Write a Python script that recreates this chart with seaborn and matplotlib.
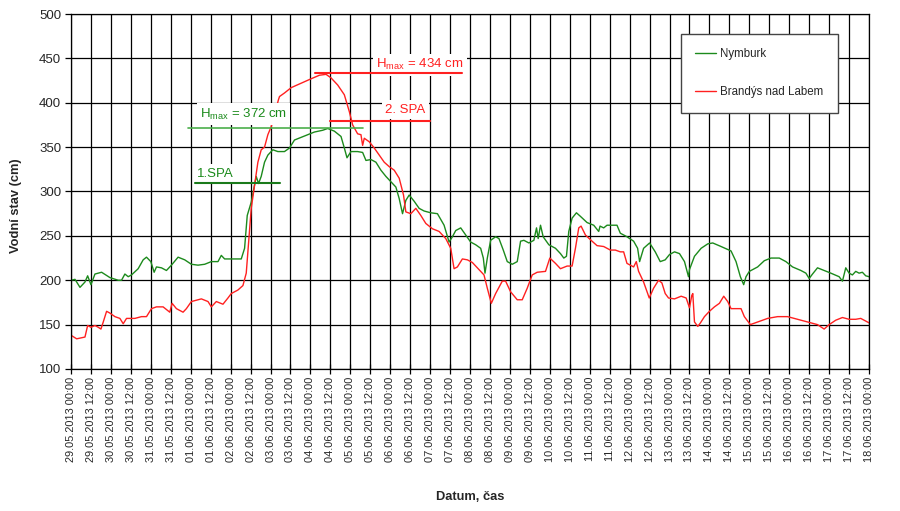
import numpy as np
import pandas as pd
import matplotlib
matplotlib.use("Agg")
import matplotlib.pyplot as plt
import matplotlib.dates as mdates
import seaborn as sns

# ---------------- data ----------------
start_time = "2013-05-29 00:00"
end_time = "2013-06-18 00:00"

nymburk_hours = [0, 2.4, 5.4, 8.4, 10, 12, 14.4, 18.4, 23.4, 28.4, 30.4, 32.4, 34.4, 36.4, 40.4,
                 43.4, 45.4, 48, 50, 51.4, 54.4, 57.4, 60.4, 64.4, 68.4, 72.4, 76.4, 80.4, 84.4,
                 88.4, 90.4, 92.4, 96.4, 102.4, 104.4, 106, 108.4, 110.4, 111.4, 112.8, 114.4,
                 116.4, 118.4, 121.4, 124.4, 128.4, 131.4, 134.4, 138.4, 142.4, 146.4, 151.4,
                 154.4, 158.4, 162.4, 164.4, 166, 168.4, 172.4, 175.4, 177.4, 180.4, 183.4, 186.4,
                 189.4, 192.4, 195.4, 197.4, 199.4, 201.4, 203.4, 206.4, 209.4, 212.4, 216.4,
                 220.4, 224.4, 227.4, 229.4, 231.4, 234.4, 237.4, 240.4, 243.4, 246.4, 248, 249,
                 250.4, 252.4, 255.4, 257.4, 260, 262.4, 265.4, 268.4, 270.4, 272.4, 275.4, 278.4,
                 280, 281, 282.4, 284, 287.4, 291.4, 294.4, 296.4, 298, 299.4, 301.4, 304, 306.4,
                 310.4, 314.4, 317.4, 318.2, 320.4, 322.4, 328.4, 330.4, 334.4, 338.4, 340.8, 342,
                 344.4, 348, 351.4, 354.4, 357.4, 360, 363, 366, 369, 371.4, 372, 375, 379, 383,
                 386, 391, 397, 400, 402.6, 404.6, 406, 408, 413, 417, 421, 426, 430, 434, 439,
                 442, 444, 446, 449, 453, 457, 462, 464, 466, 468, 470, 472, 474, 476, 478, 480]
nymburk_cm = [200, 201, 192, 198, 205, 195, 207, 209, 203, 200, 200, 207, 204, 206, 213,
              223, 226, 221, 209, 215, 214, 211, 217, 226, 223, 218, 217, 218, 221,
              221, 228, 224, 224, 224, 236, 273, 288, 307, 317, 309, 317,
              333, 341, 347, 345, 345, 349, 358, 361, 364, 367, 369,
              371, 368, 362, 349, 338, 345, 345, 344, 335, 336, 333, 324,
              317, 311, 305, 292, 275, 290, 296, 289, 281, 278, 276,
              275, 262, 243, 249, 256, 259, 251, 243, 240, 236, 225, 208,
              225, 245, 249, 247, 234, 221, 218, 221, 244, 245, 242, 245,
              259, 247, 262, 249, 240, 236, 230, 225, 227, 255, 270, 276, 272,
              265, 262, 255, 261, 259, 262, 262, 253, 249, 244, 236, 221,
              236, 242, 232, 221, 223, 229, 232, 230, 221, 204, 212, 227, 236, 241,
              242, 238, 233, 221, 204, 195, 204, 210, 215, 222, 225, 225, 221, 215, 211,
              208, 202, 207, 214, 211, 208, 204, 199, 214, 208, 206, 210, 208, 209, 205, 204]

brandys_hours = [0, 3.4, 8.4, 10, 12, 14.4, 16.4, 18, 19.4, 21.4, 23.4, 26.4, 29.4, 31.4, 33.4,
                 35.4, 38.4, 42.4, 45.4, 48.4, 51.4, 55.4, 59.4, 60.8, 63.4, 67.4, 69.4, 72.4,
                 78.4, 82.4, 84.4, 87.4, 91.4, 94.4, 96.4, 100.4, 103.4, 105.4, 107, 108.4, 110.4,
                 112.4, 114.4, 116.4, 118.4, 120.4, 122.4, 124.7, 125.4, 128.4, 132.4, 138.4,
                 144.4, 149.4, 153.4, 156.4, 160.4, 164.4, 167.4, 169.4, 172.4, 174.4, 175.4,
                 176.4, 179.4, 182.4, 185.4, 188.4, 191.4, 194.4, 197.4, 200, 201.4, 204.4, 207.4,
                 210.4, 213.4, 217.4, 221.4, 225.4, 228.4, 230.4, 232.4, 235.4, 238.4, 241.4,
                 244.4, 248.4, 250.4, 252.8, 255.4, 259.4, 261.4, 264.4, 268.4, 271.4, 274.4,
                 277.4, 280.4, 285.4, 288, 291.4, 294.4, 298.4, 301.4, 303.4, 305.4, 306.8, 309.4,
                 313.4, 316.4, 320.4, 324.4, 327.4, 330.4, 332.4, 334.4, 338.4, 340, 341.4, 344.4,
                 347.8, 350.4, 353.4, 355.4, 357.4, 359.4, 363, 367, 370, 372, 373.4, 374, 375,
                 377, 378.6, 381, 384, 387, 390, 392.6, 395, 397, 400, 403, 405, 408.6, 413, 419,
                 425, 431, 437, 443, 449, 453, 456, 460, 464, 468, 472, 475, 478, 480]
brandys_cm = [138, 134, 136, 149, 147, 149, 147, 145, 153, 165, 163, 159, 157, 151, 157,
              157, 157, 159, 159, 168, 170, 170, 164, 174, 168, 164, 168, 176,
              179, 176, 170, 176, 173, 180, 185, 189, 194, 208, 247, 281, 307,
              333, 347, 350, 364, 373, 386, 403, 407, 411, 417, 422,
              427, 431, 432, 428, 420, 409, 390, 375, 365, 364, 352,
              360, 356, 349, 341, 333, 328, 324, 315, 296, 277, 275, 281,
              273, 264, 258, 255, 247, 236, 213, 215, 224, 223, 220,
              214, 206, 191, 174, 185, 199, 199, 187, 178, 178, 191,
              206, 209, 210, 225, 219, 213, 216, 216, 236, 259, 261, 251,
              244, 239, 238, 234, 234, 232, 232, 219, 215, 221, 210, 198,
              180, 191, 200, 197, 185, 180, 179, 182, 180, 169, 183, 185, 153,
              148, 152, 159, 165, 170, 174, 182, 176, 168, 168, 168, 159, 150, 153, 157,
              159, 159, 156, 153, 150, 145, 150, 155, 158, 156, 156, 157, 154, 152]

series_names = ["Nymburk", "Brandýs nad Labem"]
series_colors = ["#1c8a1c", "#ff2020"]
y_ticks = [100, 150, 200, 250, 300, 350, 400, 450, 500]

ann_texts = ["1.SPA", r"H$_{\mathrm{max}}$ = 372 cm", r"H$_{\mathrm{max}}$ = 434 cm", "2. SPA"]
ann_levels = [310, 372, 433, 379]
ann_from_h = [74.6, 70.4, 146.8, 155.8]
ann_to_h = [125.7, 175.6, 235.2, 216.0]

# ---------------- build frame ----------------
t0 = pd.Timestamp(start_time)
df = pd.concat([
    pd.DataFrame({"time": t0 + pd.to_timedelta(nymburk_hours, unit="h"),
                  "stav": nymburk_cm, "station": series_names[0]}),
    pd.DataFrame({"time": t0 + pd.to_timedelta(brandys_hours, unit="h"),
                  "stav": brandys_cm, "station": series_names[1]}),
], ignore_index=True)

sns.set_theme(style="white")
plt.rcParams["font.family"] = ["Liberation Sans", "DejaVu Sans"]
plt.rcParams["mathtext.fontset"] = "custom"
plt.rcParams["mathtext.rm"] = "Liberation Sans"
plt.rcParams["mathtext.it"] = "Liberation Sans:italic"
plt.rcParams["mathtext.bf"] = "Liberation Sans:bold"

fig = plt.figure(figsize=(9, 5.11), dpi=100)
ax = fig.add_axes([0.0789, 0.2779, 0.8867, 0.6947])

sns.lineplot(data=df, x="time", y="stav", hue="station", hue_order=series_names,
             palette=dict(zip(series_names, series_colors)), linewidth=1.0, ax=ax,
             estimator=None, sort=False)

ax.set_xlim(pd.Timestamp(start_time), pd.Timestamp(end_time))
ax.set_ylim(y_ticks[0], y_ticks[-1])
ax.set_yticks(y_ticks)
ax.xaxis.set_major_locator(mdates.HourLocator(byhour=[0, 12]))
ax.xaxis.set_major_formatter(mdates.DateFormatter("%d.%m.%Y %H:%M"))
for lab in ax.get_xticklabels():
    lab.set_rotation(90)
ax.tick_params(axis="x", labelsize=7.9, direction="inout", length=7, width=0.9,
               color="black", pad=2, bottom=True)
ax.tick_params(axis="y", labelsize=9.5, direction="out", length=4, width=0.9,
               color="black", pad=3, left=True)
ax.grid(True, color="black", linewidth=0.9)
ax.set_axisbelow(True)
for sp in ax.spines.values():
    sp.set_color("black")
    sp.set_linewidth(0.9)

ax.set_ylabel("Vodní stav (cm)", fontsize=9.3, fontweight="bold")
ax.yaxis.set_label_coords(-0.062, 0.459)
ax.set_xlabel("Datum, čas", fontsize=9.3, fontweight="bold", labelpad=21)

# annotation lines
ann_colors = ["#1a7a1a", "#4caf4c", "#ff2020", "#ff2020"]
ann_lw = [1.5, 1.2, 1.5, 1.5]
for lvl, h0, h1, c, lw in zip(ann_levels, ann_from_h, ann_to_h, ann_colors, ann_lw):
    ax.plot([t0 + pd.Timedelta(hours=h0), t0 + pd.Timedelta(hours=h1)], [lvl, lvl],
            color=c, linewidth=lw, zorder=3)

# annotation texts (with white boxes)
txt_pos = [(75.8, 320), (77.6, 387), (183.5, 443), (188.9, 392)]
txt_col = ["#1a8a1a", "#1a8a1a", "#ff2020", "#ff2020"]
for s, (h, v), c in zip(ann_texts, txt_pos, txt_col):
    ax.text(t0 + pd.Timedelta(hours=h), v, s, color=c, fontsize=9.5, ha="left",
            va="center", zorder=2.5,
            bbox=dict(facecolor="white", edgecolor="none", pad=2.5))

leg = ax.legend(loc="upper right", bbox_to_anchor=(0.961, 0.944), frameon=True,
                fancybox=False, edgecolor="#444444", framealpha=1, fontsize=8.3,
                labelspacing=2.25, handlelength=1.8, handletextpad=0.35,
                borderpad=1.25, borderaxespad=0)
leg.get_frame().set_linewidth(1.0)
for line in leg.get_lines():
    line.set_linewidth(1.0)

fig.savefig("out.png", dpi=100, facecolor="white")
